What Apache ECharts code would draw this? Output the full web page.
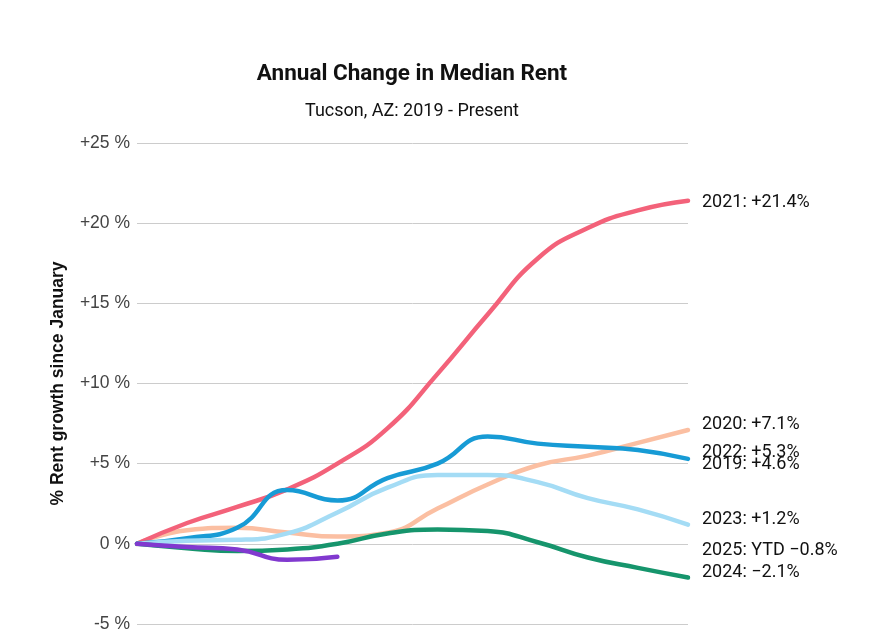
<!DOCTYPE html>
<html>
<head>
<meta charset="utf-8">
<script src="https://cdn.jsdelivr.net/npm/echarts@6/dist/echarts.min.js"></script>
<style>
html,body{margin:0;padding:0;background:#fff;}
#chart{width:885px;height:644px;}
</style>
</head>
<body>
<div id="chart"></div>
<script>
const months = ["Jan","Feb","Mar","Apr","May","Jun","Jul","Aug","Sep","Oct","Nov","Dec"];
const yTicks = [-5, 0, 5, 10, 15, 20, 25];
const v2019 = [null,null,null,null,null,null,null,null,null,null,null,4.6];
const v2020 = [0, 0.85, 1.0, 0.7, 0.45, 0.7, 2.2, 3.7, 4.9, 5.5, 6.3, 7.1];
const v2021 = [0, 1.3, 2.3, 3.4, 5.0, 7.2, 10.6, 14.3, 17.8, 19.7, 20.8, 21.4];
const v2022 = [0, 0.35, 1.0, 3.35, 2.7, 4.1, 5.0, 6.7, 6.25, 6.05, 5.85, 5.3];
const v2023 = [0, 0.2, 0.25, 0.65, 1.95, 3.5, 4.3, 4.3, 3.85, 2.85, 2.15, 1.2];
const v2024 = [0, -0.27, -0.45, -0.35, 0.0, 0.65, 0.9, 0.8, 0.1, -0.85, -1.5, -2.1];
const v2025 = [0, -0.2, -0.35, -1.0, -0.8];
// 2025 year-to-date label is placed at the right edge, at its latest value
const v2025Label = months.map((m, i) => i === months.length - 1 ? v2025[v2025.length - 1] : null);

function fmt(v){
  const s = Math.abs(v).toFixed(1);
  return (v < 0 ? '\u2212' : '+') + s + '%';
}
function mk(name, data, color, opts){
  opts = opts || {};
  const s = {
    name: name,
    type: 'line',
    data: data,
    smooth: 0.5,
    showSymbol: false,
    symbol: 'none',
    connectNulls: false,
    lineStyle: {width: 4.5, color: color, opacity: opts.hidden ? 0 : 1, cap: 'round'},
    itemStyle: {color: color},
    emphasis: {disabled: true},
    endLabel: {show: false}
  };
  if (opts.label) {
    s.endLabel = {
      show: true,
      distance: 14,
      offset: [0, opts.offY || 0],
      fontFamily: 'Roboto',
      fontSize: 18,
      color: '#111',
      formatter: function(p){ return (opts.title || name) + ': ' + (opts.prefix || '') + fmt(p.value); }
    };
  }
  return s;
}

const chart = echarts.init(document.getElementById('chart'), null, {renderer: 'canvas'});
chart.setOption({
  animation: false,
  backgroundColor: '#fff',
  title: [{
    text: 'Annual Change in Median Rent',
    left: 407, top: 58, textAlign: 'center',
    textStyle: {fontFamily: 'Roboto', fontWeight: 'bold', fontSize: 22.5, color: '#111'}
  },{
    text: 'Tucson, AZ: 2019 - Present',
    left: 407, top: 97, textAlign: 'center',
    textStyle: {fontFamily: 'Roboto', fontWeight: 'normal', fontSize: 18, color: '#111'}
  }],
  grid: {left: 137, right: 197, top: 143, bottom: 20, containLabel: false},
  xAxis: {
    type: 'category',
    data: months,
    boundaryGap: false,
    axisLine: {show: false},
    axisTick: {show: false},
    axisLabel: {show: false},
    splitLine: {show: false}
  },
  yAxis: {
    type: 'value',
    min: yTicks[0],
    max: yTicks[yTicks.length - 1],
    interval: 5,
    name: '% Rent growth since January',
    nameLocation: 'middle',
    nameGap: 70,
    nameTextStyle: {fontFamily: 'Liberation Sans', fontWeight: 'bold', fontSize: 17.5, color: '#111'},
    axisLine: {show: false},
    axisTick: {show: false},
    axisLabel: {
      margin: 7,
      fontFamily: 'Liberation Sans',
      fontSize: 17.5,
      color: '#444',
      formatter: function(v){ return (v > 0 ? '+' : '') + v + ' %'; }
    },
    splitLine: {lineStyle: {color: '#cccccc', width: 1}}
  },
  series: [
    mk('2019', v2019, '#1a9bd6', {hidden: true, label: true, offY: -6}),
    mk('2020', v2020, '#fbbfa2', {label: true, offY: -5}),
    mk('2021', v2021, '#f3627a', {label: true, offY: 2}),
    mk('2022', v2022, '#179bd5', {label: true, offY: -6}),
    mk('2023', v2023, '#a4dcf5', {label: true, offY: -5}),
    mk('2024', v2024, '#16956c', {label: true, offY: -5}),
    mk('2025', v2025, '#8139cf'),
    mk('2025 label', v2025Label, '#8139cf', {hidden: true, label: true, offY: -6, title: '2025', prefix: 'YTD '})
  ]
});
</script>
</body>
</html>
